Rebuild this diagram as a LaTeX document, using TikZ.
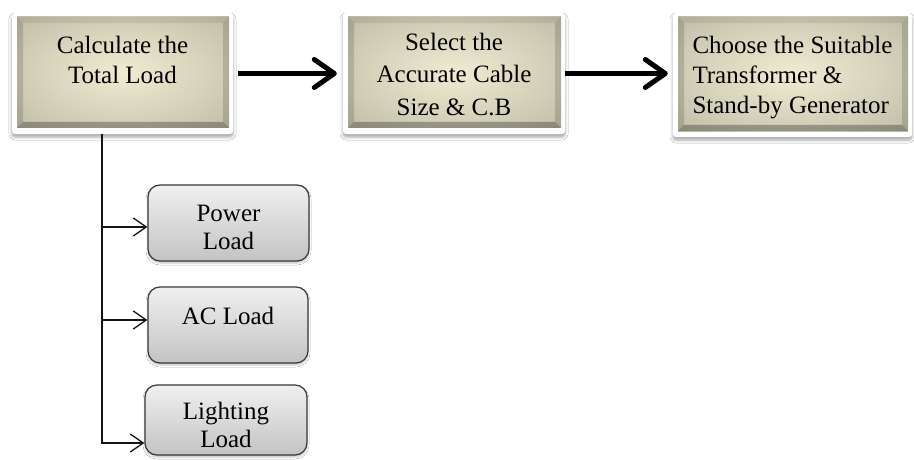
\documentclass[tikz,border=0pt]{standalone}
\usepackage{fontspec}
\setmainfont{Liberation Serif}
\usetikzlibrary{arrows.meta,shadows.blur}
\definecolor{cA}{RGB}{240,236,210}
\definecolor{cB}{RGB}{200,197,175}
\definecolor{cC}{RGB}{140,138,118}
\definecolor{lineblk}{RGB}{20,20,20}
\definecolor{loadtop}{RGB}{240,240,240}
\definecolor{loadbot}{RGB}{195,195,195}
\definecolor{loadedge}{RGB}{55,55,55}
\pgfdeclareradialshading{boxshade}{\pgfpoint{0bp}{0bp}}{color(0bp)=(cA); color(30bp)=(cB); color(72bp)=(cC)}
\begin{document}
\begin{tikzpicture}[x=1pt,y=-1pt,
  every node/.style={font=\fontsize{25}{30}\selectfont, text=black},
  bigbox/.style={rectangle, rounded corners=3pt, fill=white, inner sep=0pt,
    blur shadow={shadow xshift=0pt, shadow yshift=-3pt, shadow blur radius=3pt, shadow opacity=35},
    path picture={
      \coordinate (iNW) at ([shift={(5pt,-4pt)}]path picture bounding box.north west);
      \coordinate (iSE) at ([shift={(-4pt,6pt)}]path picture bounding box.south east);
      \shade[sharp corners, shading=boxshade] (iNW) rectangle (iSE);
      \fill[sharp corners, black, opacity=0.28] (iNW |- iSE) -- (iSE) -- ([shift={(-6pt,6pt)}]iSE) -- ([shift={(6pt,6pt)}]iNW |- iSE) -- cycle;
      \fill[sharp corners, black, opacity=0.14] (iNW) -- (iNW |- iSE) -- ([shift={(6pt,6pt)}]iNW |- iSE) -- ([shift={(6pt,-6pt)}]iNW) -- cycle;
      \fill[sharp corners, black, opacity=0.14] (iSE) -- (iSE |- iNW) -- ([shift={(-6pt,-6pt)}]iSE |- iNW) -- ([shift={(-6pt,6pt)}]iSE) -- cycle;
      \fill[sharp corners, black, opacity=0.08] (iNW) -- (iSE |- iNW) -- ([shift={(-6pt,-6pt)}]iSE |- iNW) -- ([shift={(6pt,-6pt)}]iNW) -- cycle;
    }},
  loadbox/.style={rectangle, rounded corners=12pt, draw=loadedge, line width=1.2pt,
    top color=loadtop, bottom color=loadbot, inner sep=0pt,
    blur shadow={shadow xshift=0pt, shadow yshift=-2pt, shadow blur radius=2pt, shadow opacity=25}},
  boxtext/.style={align=center, inner sep=0pt},
  loadtext/.style={align=center, inner sep=0pt, font=\fontsize{25}{28}\selectfont},
  thickarrow/.style={draw=black, line width=5pt, -{Straight Barb[length=20pt, width=28pt, round]}},
  thinarrow/.style={draw=lineblk, line width=1.3pt, -{Straight Barb[length=13pt, width=18pt]}}
]
\useasboundingbox (0,0) rectangle (914,460);
\fill[white] (0,0) rectangle (914,460);

\node[bigbox, minimum width=221pt, minimum height=121pt] (b1) at (122.5,73.5) {};
\node[bigbox, minimum width=222pt, minimum height=121pt] (b2) at (454,73.5) {};
\node[bigbox, minimum width=239pt, minimum height=124pt] (b3) at (792.5,75) {};

\node[boxtext] (b1t) at (122.5,59.5) {Calculate the\\Total Load};
\node[boxtext, font=\fontsize{25}{32.5}\selectfont] (b2t) at (454,74.5) {Select the\\Accurate Cable\\Size \& C.B};
\node[boxtext, align=left] (b3t) at (792.5,77.5) {Choose the Suitable\\Transformer \&\\Stand-by Generator};

\draw[thickarrow, shorten <=5pt, shorten >=6pt] (b1.east) -- (b2.west);
\draw[thickarrow, shorten <=0pt, shorten >=5pt] (b2.east) -- (b2.east -| b3.west);

\node[loadbox, minimum width=161pt, minimum height=76pt] (p1) at (228.5,223) {};
\node[loadbox, minimum width=160pt, minimum height=76pt] (p2) at (228,325) {};
\node[loadbox, minimum width=162pt, minimum height=70pt] (p3) at (226,420) {};

\node[loadtext] (p1t) at (228.5,227) {Power\\Load};
\node[loadtext] (p2t) at (228,316) {AC Load};
\node[loadtext] (p3t) at (226,425) {Lighting\\Load};

\coordinate (v0) at ([xshift=-20.5pt]b1.south);
\coordinate (v3) at ([yshift=-23pt]p3.west);
\draw[thinarrow] (v0) |- (v3);
\draw[thinarrow] (v0 |- p1.west) ++(0,4) -- ([yshift=-4pt]p1.west);
\draw[thinarrow] (v0 |- p2.west) ++(0,-5) -- ([yshift=5pt]p2.west);
\end{tikzpicture}
\end{document}
